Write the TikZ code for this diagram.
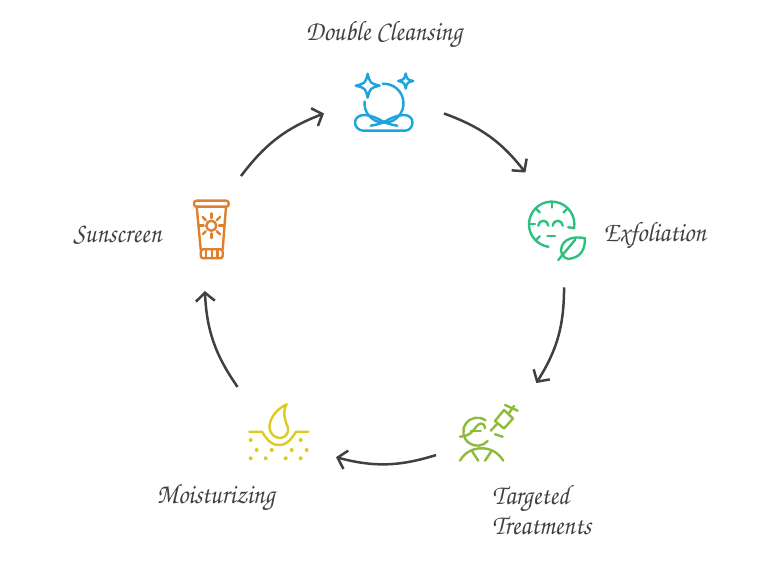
\documentclass[tikz,border=0pt]{standalone}
\usepackage{xcolor}
\usepackage{fontspec}
\newfontfamily\labelfont[FakeStretch=0.9]{TeX Gyre Chorus}
\usepackage{tikz}
\usetikzlibrary{positioning,arrows.meta}
\definecolor{ink}{RGB}{64,64,64}
\definecolor{cleanse}{RGB}{27,165,220}
\definecolor{exfol}{RGB}{47,192,127}
\definecolor{treat}{RGB}{141,187,60}
\definecolor{moist}{RGB}{223,203,30}
\definecolor{sun}{RGB}{224,127,44}

\begin{document}
\begin{tikzpicture}[
    x=0.02cm,y=-0.02cm,
    slot/.style={inner sep=0pt,outer sep=0pt},
    lbl/.style={font=\fontsize{16}{17}\labelfont,text=ink,inner sep=0pt,align=left},
    link/.style={draw=ink,line width=0.05cm,-{Straight Barb[length=1.7mm,width=3.8mm]}},
    glyph/.style={line width=0.048cm,line cap=round,line join=round}
  ]
    \useasboundingbox (0,0) rectangle (768,584);

    % slots the arrows run between
    \node[slot,minimum width=2.4cm,minimum height=1.2cm] (dc) at (384,104) {};
    \node[slot,minimum width=2cm,minimum height=2.3cm] (ex) at (556,230) {};
    \node[slot,minimum width=2.08cm,minimum height=2cm] (tt) at (488,433) {};
    \node[slot,minimum width=2.28cm,minimum height=1.84cm] (mo) at (279,433) {};
    \node[slot,minimum width=1.2cm,minimum height=2.34cm] (su) at (211,232.5) {};

    \draw[link] (dc.-9) to[bend left=16] (ex.118);
    \draw[link] (ex.-82) to[bend left=16] (tt.46.8);
    \draw[link] (tt.203.9) to[bend left=16] (mo.-23.7);
    \draw[link] (mo.132.4) to[bend left=16] (su.264.1);
    \draw[link] (su.62.9) to[bend left=16] (dc.189);

    % labels
    \node[lbl,above=0.52cm of dc] (dclabel) {Double Cleansing};
    \node[lbl,anchor=west] (exlabel) at (603,235) {Exfoliation};
    \node[lbl,anchor=north west] (ttlabel) at (492,485) {Targeted\\Treatments};
    \node[lbl,anchor=west] (molabel) at (156.5,498) {Moisturizing};
    \node[lbl,anchor=west] (sulabel) at (73,235) {Sunscreen};

    % double cleansing icon
    \begin{scope}[glyph,cleanse]
      \foreach \x/\y/\r in {367.7/85.7/12,405.7/81/7.5} {
        \draw (\x,\y-\r) .. controls (\x+0.2*\r,\y-0.2*\r) .. (\x+\r,\y)
          .. controls (\x+0.2*\r,\y+0.2*\r) .. (\x,\y+\r)
          .. controls (\x-0.2*\r,\y+0.2*\r) .. (\x-\r,\y)
          .. controls (\x-0.2*\r,\y-0.2*\r) .. cycle;
      }
      \draw (384,103.3) ++(-94:19.5) arc[start angle=-94,end angle=185,radius=19.5];
      \draw (370.7,125.7) .. controls (375,125) and (380,124) .. (384,122)
        .. controls (390,118.5) and (397,115) .. (404,115)
        .. controls (409,115) and (412.5,118) .. (412.5,122.7)
        .. controls (412.5,127) and (409,130.7) .. (405,130.7)
        -- (363.3,130.7)
        .. controls (359,130.7) and (355,127) .. (355,122.7)
        .. controls (355,118) and (359,115) .. (364,115)
        .. controls (371,115) and (378,118.5) .. (384,122)
        .. controls (388,124) and (393,125) .. (397.3,125.7);
    \end{scope}

    % exfoliation icon
    \begin{scope}[glyph,exfol]
      \draw (551.7,224.3) ++(10:22.7) arc[start angle=10,end angle=-262,radius=22.7];
      \foreach \a in {-135,-90,-45,10,135,180} {
        \draw (551.7,224.3) ++(\a:22.7) -- ++(\a+180:6);
      }
      \draw (538.3,225.7) arc[start angle=180,end angle=360,radius=5];
      \draw (552.7,225.7) arc[start angle=180,end angle=360,radius=5];
      \draw (547.3,236) -- (555,236);
      \draw (585,238.3) .. controls (575,236) and (562,238) .. (561,250)
        .. controls (561,256) and (567,261) .. (572,258.3)
        .. controls (582,256) and (585,248) .. cycle;
      \draw (558.3,260) -- (575,240);
    \end{scope}

    % targeted treatments icon
    \begin{scope}[glyph,treat]
      \draw (477.3,431.7) ++(-54:14) arc[start angle=-54,end angle=-318,radius=14];
      \draw (460,436.7) .. controls (470,436) and (473,431) .. (476,427)
        .. controls (479,423) and (484,421) .. (485,428.3);
      \draw (470.7,431) -- (480.7,431);
      \draw (495,421) -- (504,410) -- (513,418.5) -- (504,428.5) -- cycle;
      \draw (490.7,430.7) -- (497,424);
      \draw (509,413) -- (514,406);
      \draw (505,405) -- (517.7,410.7);
      \draw (495,434.3) -- (502.7,436.7);
      \draw (460,460.7) .. controls (465,452) and (473,448.3) .. (481.7,448.3)
        .. controls (490,448.3) and (498,452) .. (503.3,460.7);
      \draw (471.7,450.7) -- (478.3,460.7);
      \draw (491.7,450.7) -- (485,460.7);
    \end{scope}

    % moisturizing icon
    \begin{scope}[glyph,moist]
      \draw (249.3,431.7) -- (262,431.7) .. controls (266,438) and (270,445) .. (279,445)
        .. controls (288,445) and (292,438) .. (296,431.7) -- (308.3,431.7);
      \draw (286.7,404.3) .. controls (275,410) and (269,420) .. (269.5,428)
        .. controls (270,434) and (275,438) .. (280,438)
        .. controls (286,438) and (289,432) .. (288,428)
        .. controls (285,420) and (282,412) .. cycle;
      \foreach \x/\y in {250.7/440,300.7/440,256.7/450,271.7/450,291.7/450,306.7/450,250.7/458.3,265.7/458.3,285.7/458.3,300.7/458.3} {
        \fill (\x,\y) circle (2);
      }
    \end{scope}

    % sunscreen icon
    \begin{scope}[glyph,sun]
      \draw[rounded corners=0.05cm] (194,200.7) rectangle (228.7,206.7);
      \draw (196.7,206.7) -- (200.7,249.3);
      \draw (226,206.7) -- (222.7,249.3);
      \draw[rounded corners=0.05cm] (200.7,249.3) -- (200.7,258.3) -- (222.7,258.3) -- (222.7,249.3) -- cycle;
      \foreach \x in {206,211.7,217.3} {
        \draw (\x,249.3) -- (\x,258.3);
      }
      \draw (211.3,225.7) circle (5);
      \foreach \a in {0,45,...,315} {
        \draw (211.3,225.7) ++(\a:7.7) -- ++(\a:4.6);
      }
    \end{scope}
  \end{tikzpicture}
\end{document}
